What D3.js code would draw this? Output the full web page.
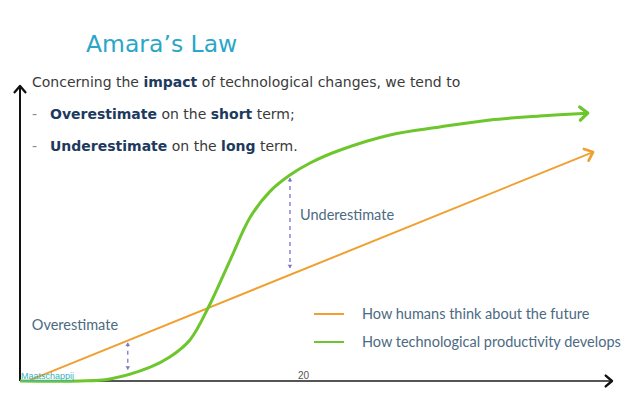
<!DOCTYPE html>
<html>
<head>
<meta charset="utf-8">
<script src="https://cdn.jsdelivr.net/npm/d3@7"></script>
<style>
	body { margin: 0; background: #fff; }
	svg { display: block; }
</style>
</head>
<body>
<svg id="chart" width="638" height="399"></svg>
<script>
// curve values, time 0..100 / impact 0..100
const productivity = [
	[0, 0], [10.1, 0], [15.2, 0.7], [22.0, 4.7], [25.3, 8.1], [28.7, 13.9],
	[32.1, 26.1], [35.5, 41.0], [38.9, 55.6], [42.2, 64.2], [45.6, 69.8],
	[49.0, 73.9], [54.1, 78.3], [62.5, 83.4], [70.9, 86.1], [79.4, 88.5],
	[87.8, 89.8], [95.9, 90.8]
]
const expectation = [[1.7, 0.3], [96.8, 77.6]]
const gaps = [
	{ x: 18.2, y0: 13.0, y1: 3.9 },
	{ x: 45.6, y0: 68.8, y1: 38.3 }
]
const gapLabels = [
	{ text: "Overestimate", x: 2.0, y: 17.3 },
	{ text: "Underestimate", x: 47.3, y: 54.6 }
]
const legendItems = ["How humans think about the future", "How technological productivity develops"]
const legendColors = ["#f0a030", "#6cc62c"]

const svg = d3.select("#chart")
const x = d3.scaleLinear().domain([0, 100]).range([20, 612])
const y = d3.scaleLinear().domain([0, 100]).range([381, 86])

const defs = svg.append("defs")
const chevron = (id, color, size, width) => {
	defs.append("marker")
		.attr("id", id)
		.attr("viewBox", "-10 -10 20 20")
		.attr("markerWidth", size)
		.attr("markerHeight", size)
		.attr("markerUnits", "userSpaceOnUse")
		.attr("orient", "auto")
		.attr("refX", 0)
		.attr("refY", 0)
		.append("path")
		.attr("d", "M-7,-6L0,0L-7,6")
		.attr("fill", "none")
		.attr("stroke", color)
		.attr("stroke-width", width)
		.attr("stroke-linecap", "round")
		.attr("stroke-linejoin", "round")
}
chevron("arrow-axis", "#111", 18, 2.6)
chevron("arrow-green", "#6cc62c", 22, 3)
chevron("arrow-orange", "#f0a030", 21, 2.6)
defs.append("marker")
	.attr("id", "arrow-gap")
	.attr("viewBox", "-6 -6 12 12")
	.attr("markerWidth", 8)
	.attr("markerHeight", 8)
	.attr("markerUnits", "userSpaceOnUse")
	.attr("orient", "auto-start-reverse")
	.append("path")
	.attr("d", "M-5,-3.5L0,0L-5,3.5Z")
	.attr("fill", "#7a78c2")

// title and bullet text
svg.append("text")
	.attr("x", 86)
	.attr("y", 52)
	.attr("font-family", "DejaVu Sans")
	.attr("font-size", 23.5)
	.attr("fill", "#2aa6c9")
	.text("Amara’s Law")

const lines = [
	[["Concerning the ", false], ["impact", true], [" of technological changes, we tend to", false]],
	[["Overestimate", true], [" on the ", false], ["short", true], [" term;", false]],
	[["Underestimate", true], [" on the ", false], ["long", true], [" term.", false]]
]
lines.forEach((parts, i) => {
	const t = svg.append("text")
		.attr("x", i === 0 ? 32 : 50)
		.attr("y", 87 + i * 32)
		.attr("font-family", "DejaVu Sans")
		.attr("font-size", 14)
	t.selectAll("tspan")
		.data(parts)
		.enter()
		.append("tspan")
		.attr("font-weight", d => d[1] ? "bold" : null)
		.attr("fill", d => d[1] ? "#1d3a5e" : "#3a3a3a")
		.text(d => d[0])
	if (i > 0) {
		svg.append("text")
			.attr("x", 32)
			.attr("y", 87 + i * 32)
			.attr("font-family", "DejaVu Sans")
			.attr("font-size", 14)
			.attr("fill", "#888")
			.text("-")
	}
})

// axes
svg.append("line")
	.attr("x1", x(0)).attr("y1", y(0))
	.attr("x2", x(0)).attr("y2", y(100))
	.attr("stroke", "#111").attr("stroke-width", 2)
	.attr("marker-end", "url(#arrow-axis)")
svg.append("line")
	.attr("x1", x(0)).attr("y1", y(0))
	.attr("x2", x(100)).attr("y2", y(0))
	.attr("stroke", "#555").attr("stroke-width", 2)
	.attr("marker-end", "url(#arrow-axis)")

// curves
svg.append("path")
	.datum(expectation)
	.attr("d", d3.line().x(d => x(d[0])).y(d => y(d[1])))
	.attr("fill", "none")
	.attr("stroke", "#f0a030")
	.attr("stroke-width", 2)
	.attr("marker-end", "url(#arrow-orange)")
svg.append("path")
	.datum(productivity)
	.attr("d", d3.line().curve(d3.curveCatmullRom.alpha(0.5)).x(d => x(d[0])).y(d => y(d[1])))
	.attr("fill", "none")
	.attr("stroke", "#6cc62c")
	.attr("stroke-width", 3)
	.attr("marker-end", "url(#arrow-green)")

// gap arrows
svg.selectAll(".gap")
	.data(gaps)
	.enter()
	.append("line")
	.attr("class", "gap")
	.attr("x1", d => x(d.x)).attr("y1", d => y(d.y0))
	.attr("x2", d => x(d.x)).attr("y2", d => y(d.y1))
	.attr("stroke", "#8a88cc")
	.attr("stroke-width", 1.5)
	.attr("stroke-dasharray", "4,4")
	.attr("marker-start", "url(#arrow-gap)")
	.attr("marker-end", "url(#arrow-gap)")

svg.selectAll(".gap-label")
	.data(gapLabels)
	.enter()
	.append("text")
	.attr("class", "gap-label")
	.attr("x", d => x(d.x))
	.attr("y", d => y(d.y))
	.attr("font-family", "Lato")
	.attr("font-size", 14.5)
	.attr("fill", "#4c6a82")
	.text(d => d.text)

// legend
const legend = svg.selectAll(".legend")
	.data(legendItems)
	.enter()
	.append("g")
	.attr("class", "legend")
	.attr("transform", (d, i) => `translate(314,${314 + i * 28})`)
legend.append("line")
	.attr("x1", 0).attr("x2", 30)
	.attr("stroke", (d, i) => legendColors[i])
	.attr("stroke-width", 2)
legend.append("text")
	.attr("x", 48)
	.attr("y", 5)
	.attr("font-family", "Lato")
	.attr("font-size", 14.5)
	.attr("fill", "#4c6a82")
	.text(d => d)

// footer
svg.append("text")
	.attr("x", 21)
	.attr("y", 379)
	.attr("font-family", "Liberation Sans")
	.attr("font-size", 9)
	.attr("fill", "#3bb0bf")
	.attr("text-decoration", "underline")
	.text("Maatschappij")
svg.append("text")
	.attr("x", 298)
	.attr("y", 379)
	.attr("font-family", "Liberation Sans")
	.attr("font-size", 10)
	.attr("fill", "#555")
	.text("20")
</script>
</body>
</html>
